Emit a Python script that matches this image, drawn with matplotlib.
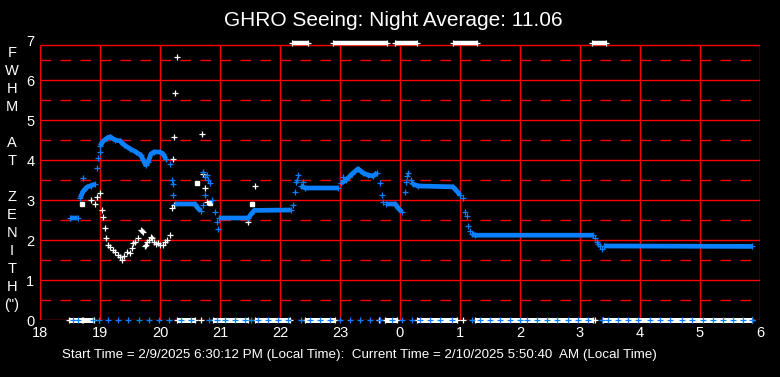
import matplotlib.pyplot as plt
import numpy as np

plt.rcParams['font.family'] = ['Liberation Sans', 'DejaVu Sans']
plt.rcParams['lines.scale_dashes'] = False

nan = np.nan
title = "GHRO Seeing: Night Average: 11.06"
footer = "Start Time = 2/9/2025 6:30:12 PM (Local Time):  Current Time = 2/10/2025 5:50:40  AM (Local Time)"
ylabel_letters = ["F", "W", "H", "M", "", "A", "T", "", "Z", "E", "N", "I", "T", "H", "(\")"]
xtick_pos = list(range(18, 31))
xtick_labels = ["18", "19", "20", "21", "22", "23", "0", "1", "2", "3", "4", "5", "6"]
ytick_pos = list(range(0, 8))

# blue seeing: dense runs (nan breaks the run)
blue_run_t = [18.50, 18.63, nan,
              18.67, 18.72, 18.78, 18.85, 18.92, nan,
              19.00, 19.05, 19.12, 19.17, 19.25, 19.33, 19.40, 19.50, 19.60, 19.68, 19.72, 19.76,
              19.80, 19.85, 19.90, 20.00, 20.05, 20.10, nan,
              20.25, 20.58, 20.63, 20.68, nan,
              20.98, 21.47, 21.52, 21.57, 22.18, nan,
              22.35, 22.42, 22.97, nan,
              23.02, 23.10, 23.20, 23.30, 23.38, 23.47, 23.55, 23.62, nan,
              23.77, 23.92, 23.97, 24.03, nan,
              24.22, 24.30, 24.88, 24.95, 25.00, nan,
              25.20, 25.25, 27.22, nan,
              27.40, 29.87]
blue_run_v = [2.55, 2.55, nan,
              3.05, 3.22, 3.32, 3.36, 3.40, nan,
              4.35, 4.47, 4.55, 4.58, 4.50, 4.48, 4.38, 4.28, 4.20, 4.12, 4.00, 3.88,
              3.95, 4.15, 4.20, 4.20, 4.15, 4.02, nan,
              2.90, 2.90, 2.80, 2.72, nan,
              2.55, 2.55, 2.65, 2.74, 2.75, nan,
              3.35, 3.30, 3.30, nan,
              3.42, 3.50, 3.65, 3.78, 3.68, 3.62, 3.60, 3.68, nan,
              2.90, 2.90, 2.80, 2.70, nan,
              3.40, 3.35, 3.33, 3.22, 3.12, nan,
              2.15, 2.12, 2.12, nan,
              1.85, 1.84]

# blue scattered points
blue_pt_t = [18.72, 18.95, 18.97, 19.00, 20.17, 20.20, 20.22, 20.22, 20.72, 20.75, 20.78, 20.80,
             20.83, 20.72, 20.75, 20.87, 20.92, 20.95, 20.97, 22.22, 22.25, 22.27, 22.30, 22.28,
             22.38, 23.05, 23.67, 23.70, 23.72, 24.08, 24.10, 24.12, 24.13, 24.18, 24.20, 25.05,
             25.08, 25.12, 25.13, 25.17, 27.25, 27.28, 27.30, 27.33, 27.37]
blue_pt_v = [3.55, 3.80, 4.05, 4.20, 3.90, 3.50, 3.40, 3.12, 3.70, 3.58, 3.62, 3.50,
             3.42, 2.88, 3.12, 3.00, 2.70, 2.45, 2.28, 2.88, 3.20, 3.45, 3.62, 3.50,
             3.45, 3.58, 3.42, 3.12, 2.95, 3.20, 3.45, 3.60, 3.68, 3.50, 3.42, 3.05,
             2.70, 2.60, 2.35, 2.22, 2.05, 1.95, 1.90, 1.85, 1.78]

# blue readings at zero
blue_zero_t = [18.55, 18.63, 18.88, 18.98, 19.13, 19.30, 19.47, 19.65, 19.82, 19.98, 20.15, 20.35,
               20.52, 20.82, 20.95, 21.08, 21.25, 21.42, 21.52, 21.63, 21.80, 21.97, 22.13, 22.35,
               22.50, 22.67, 22.83, 23.00, 23.17, 23.33, 23.50, 23.67, 23.87, 24.03, 24.20, 24.33,
               24.50, 24.67, 24.87, 25.20, 25.33, 25.50, 25.67, 25.83, 26.00, 26.12, 26.28, 26.45,
               26.62, 26.80, 26.97, 27.13, 27.37, 27.47, 27.63, 27.80, 27.97, 28.17, 28.33, 28.50,
               28.70, 28.87, 29.05, 29.22, 29.38, 29.55, 29.72, 29.87]

# white seeing: scattered points
white_pt_t = [18.85, 18.92, 18.95, 19.00, 19.03, 19.05, 19.08, 19.10, 19.13, 19.17, 19.22, 19.25,
              19.30, 19.33, 19.37, 19.40, 19.45, 19.50, 19.53, 19.55, 19.58, 19.63, 19.68, 19.70,
              19.72, 19.75, 19.77, 19.78, 19.82, 19.85, 19.87, 19.90, 19.93, 19.97, 20.00, 20.05,
              20.08, 20.12, 20.17, 20.20, 20.23, 20.22, 20.23, 20.25, 20.28, 20.70, 20.72, 20.75,
              20.78, 21.47, 21.58]
white_pt_v = [3.00, 2.90, 3.08, 3.17, 2.75, 2.58, 2.30, 2.05, 1.88, 1.82, 1.75, 1.70,
              1.62, 1.58, 1.50, 1.60, 1.70, 1.67, 1.80, 1.92, 1.95, 2.05, 2.25, 2.22,
              2.20, 1.85, 1.88, 1.95, 2.00, 2.08, 2.05, 1.95, 1.90, 1.92, 1.88, 1.88,
              1.95, 2.00, 2.12, 2.80, 2.87, 4.02, 4.57, 5.67, 6.58, 4.65, 3.65, 3.30,
              2.95, 2.45, 3.35]
white_sq_t = [18.70, 20.62, 20.83, 21.53]
white_sq_v = [2.90, 3.42, 2.92, 2.90]

# white readings at zero (runs) and single ones
white_zero_start = [18.48, 18.72, 20.28, 20.88, 21.58, 22.42, 23.75, 24.28, 25.25, 27.38]
white_zero_end = [18.70, 18.90, 20.58, 21.47, 22.17, 22.92, 23.95, 24.95, 27.22, 29.87]
white_zero_single = [20.68, 23.65, 25.05, 27.25]

# white readings off the top of the scale
white_top_start = [22.20, 22.88, 23.92, 24.88, 27.20]
white_top_end = [22.47, 23.78, 24.28, 25.28, 27.43]
top_value = 6.93

blue = '#0a80ff'
red = '#ff0000'
frame_top = 6.875

fig = plt.figure(figsize=(7.8, 3.77), dpi=100, facecolor='black')
ax = fig.add_axes([40 / 780, 57 / 377, 720 / 780, 280 / 377])
ax.set_facecolor('black')
ax.set_xlim(18, 30)
ax.set_ylim(0, 7)
for s in ax.spines.values():
    s.set_visible(False)

# grid and frame
ax.vlines(xtick_pos, 0, frame_top, color=red, lw=1.0, zorder=1)
ax.hlines([0, 1, 2, 3, 4, 5, 6, frame_top], 18, 30, color=red, lw=1.0, zorder=1)
ax.hlines([0.5, 1.5, 2.5, 3.5, 4.5, 5.5, 6.5], 18, 30, color=red, lw=1.0,
          linestyles=[(0, (7.6, 6.8))], zorder=1)

mk = dict(marker='+', ls='none', ms=5, mew=0.9, clip_on=False, zorder=3)

# white
ax.hlines(np.zeros(len(white_zero_start)), white_zero_start, white_zero_end,
          color='white', lw=3.6, zorder=3, clip_on=False)
ax.plot(white_zero_start + white_zero_end + white_zero_single,
        [0] * (2 * len(white_zero_start) + len(white_zero_single)), color='white', **mk)
ax.hlines([top_value] * len(white_top_start), white_top_start, white_top_end,
          color='white', lw=3.2, zorder=3, clip_on=False)
ax.plot(white_top_start + white_top_end, [top_value] * (2 * len(white_top_start)),
        color='white', **mk)
ax.plot(white_pt_t, white_pt_v, color='white', **mk)
ax.plot(white_sq_t, white_sq_v, marker='s', ls='none', ms=3.5, color='white', zorder=3)

# blue
ax.plot(blue_run_t, blue_run_v, color=blue, lw=3.4, solid_capstyle='butt', zorder=4)
ax.plot(blue_run_t, blue_run_v, color=blue, **{**mk, 'zorder': 4})
ax.plot(blue_pt_t, blue_pt_v, color=blue, **{**mk, 'zorder': 4})
ax.plot(blue_zero_t, [0] * len(blue_zero_t), color=blue, **{**mk, 'zorder': 5})

ax.set_xticks(xtick_pos, xtick_labels)
ax.set_yticks(ytick_pos, [str(v) for v in ytick_pos])
ax.tick_params(length=0, colors='white', labelsize=10.5, pad=4)

fig.text(393 / 780, 1 - 21 / 377, title, color='white', fontsize=15, ha='center', va='center')
fig.text(62 / 780, 1 - 355 / 377, footer, color='white', fontsize=9.6, ha='left', va='center')
for i, ch in enumerate(ylabel_letters):
    fig.text(12 / 780, 1 - (53 + 18 * i) / 377, ch, color='white', fontsize=10.5,
             ha='center', va='center')

fig.savefig('out.png', dpi=100, facecolor='black')
